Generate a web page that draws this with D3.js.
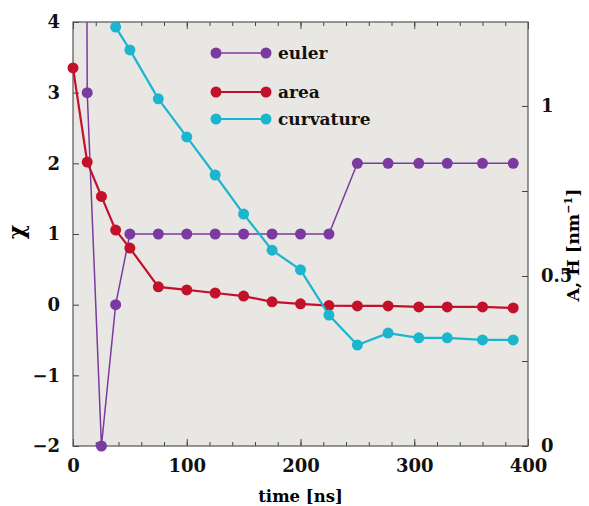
<!DOCTYPE html>
<html>
<head>
<meta charset="utf-8">
<script src="https://cdn.jsdelivr.net/npm/d3@7"></script>
<style>
  body { margin: 0; background: #fff; }
  svg text { font-family: "DejaVu Serif", "Liberation Serif", serif; font-weight: bold; }
</style>
</head>
<body>
<svg width="589" height="506"></svg>
<script>
// data
var eulerTime = [0, 12.5, 25, 37.5, 50, 75, 100, 125, 150, 175, 200, 225, 250, 277, 304, 329, 360, 387];
var eulerVals = [60, 3, -2, 0, 1, 1, 1, 1, 1, 1, 1, 1, 2, 2, 2, 2, 2, 2];

var areaTime = [0, 12.5, 25, 37.5, 50, 75, 100, 125, 150, 175, 200, 225, 250, 277, 304, 329, 360, 387];
var areaVals = [1.112, 0.835, 0.734, 0.635, 0.582, 0.468, 0.459, 0.45, 0.441, 0.424, 0.418, 0.413, 0.412, 0.412, 0.409, 0.409, 0.409, 0.406];

var curvTime = [37.5, 50, 75, 100, 125, 150, 175, 200, 225, 250, 277, 304, 329, 360, 387];
var curvVals = [1.232, 1.165, 1.021, 0.909, 0.797, 0.682, 0.576, 0.518, 0.385, 0.297, 0.332, 0.318, 0.318, 0.312, 0.312];

var leftTicks = [-2, -1, 0, 1, 2, 3, 4];
var rightTicks = [0, 0.5, 1];
var rightMinor = [0.25, 0.75];
var xTicks = [0, 100, 200, 300, 400];

var series = [
  {name: "euler", color: "#7b3a9f", axis: "left", t: eulerTime, v: eulerVals, w: 1.5},
  {name: "area", color: "#c3112c", axis: "right", t: areaTime, v: areaVals, w: 2.2},
  {name: "curvature", color: "#1bb6ce", axis: "right", t: curvTime, v: curvVals, w: 2.2}
];

var svg = d3.select("svg"),
    margin = {top: 22, right: 61, bottom: 60, left: 73},
    width = +svg.attr("width") - margin.left - margin.right,
    height = +svg.attr("height") - margin.top - margin.bottom;

var x = d3.scaleLinear().domain([0, 400]).range([0, width]),
    yL = d3.scaleLinear().domain([-2, 4]).range([height, 0]),
    yR = d3.scaleLinear().domain([0, 1.247]).range([height, 0]);

var g = svg.append("g")
    .attr("transform", "translate(" + margin.left + "," + margin.top + ")");

// plot background
g.append("rect")
    .attr("width", width).attr("height", height)
    .attr("fill", "#e9e7e4");

g.append("clipPath").attr("id", "clip")
  .append("rect").attr("width", width).attr("height", height);

// axes, ticks pointing inward
var minorX = d3.range(0, 401, 20);

g.append("g")
    .attr("transform", "translate(0," + height + ")")
    .call(d3.axisBottom(x).tickValues(minorX).tickSizeInner(-4).tickSizeOuter(0).tickFormat(""));
g.append("g")
    .attr("transform", "translate(0," + height + ")")
    .call(d3.axisBottom(x).tickValues(xTicks).tickSizeInner(-7).tickSizeOuter(0).tickPadding(13).tickFormat(d3.format("d")));
g.append("g")
    .call(d3.axisTop(x).tickValues(minorX).tickSizeInner(-4).tickSizeOuter(0).tickFormat(""));
g.append("g")
    .call(d3.axisTop(x).tickValues(xTicks).tickSizeInner(-7).tickSizeOuter(0).tickFormat(""));

g.append("g")
    .call(d3.axisLeft(yL).tickValues(leftTicks).tickSizeInner(-6).tickSizeOuter(0).tickPadding(13).tickFormat(d3.format("d")));

g.append("g")
    .attr("transform", "translate(" + width + ",0)")
    .call(d3.axisRight(yR).tickValues(rightTicks).tickSizeInner(-6).tickSizeOuter(0).tickPadding(13).tickFormat(function(d) { return d === 0.5 ? "0.5" : d3.format("d")(d); }));
g.append("g")
    .attr("transform", "translate(" + width + ",0)")
    .call(d3.axisRight(yR).tickValues(rightMinor).tickSizeInner(-6).tickSizeOuter(0).tickFormat(""));

g.selectAll(".tick text").attr("font-size", 18).attr("fill", "#111");
g.selectAll(".tick line").attr("stroke", "#444");
g.selectAll(".domain").remove();

// frame
g.append("rect")
    .attr("width", width).attr("height", height)
    .attr("fill", "none").attr("stroke", "#555").attr("stroke-width", 1.2);

// series
series.forEach(function(s) {
  var yy = s.axis === "left" ? yL : yR;
  var pts = s.t.map(function(t, i) { return {t: t, v: s.v[i]}; });
  var line = d3.line().x(function(d) { return x(d.t); }).y(function(d) { return yy(d.v); });

  g.append("path")
      .datum(pts)
      .attr("clip-path", "url(#clip)")
      .attr("fill", "none")
      .attr("stroke", s.color)
      .attr("stroke-width", s.w)
      .attr("d", line);

  g.selectAll(".dot-" + s.name)
    .data(pts.filter(function(d) { return yy(d.v) >= -6 && yy(d.v) <= height + 6; }))
    .enter().append("circle")
      .attr("cx", function(d) { return x(d.t); })
      .attr("cy", function(d) { return yy(d.v); })
      .attr("r", 5.5)
      .attr("fill", s.color);
});

// legend
var legY = [31, 70, 97];
series.forEach(function(s, i) {
  var lg = g.append("g").attr("transform", "translate(143," + legY[i] + ")");
  lg.append("line").attr("x1", 0).attr("x2", 50).attr("stroke", s.color).attr("stroke-width", s.w);
  lg.append("circle").attr("cx", 0).attr("r", 5.5).attr("fill", s.color);
  lg.append("circle").attr("cx", 50).attr("r", 5.5).attr("fill", s.color);
  lg.append("text").attr("x", 62).attr("y", 6).attr("font-size", 17).attr("fill", "#111").text(s.name);
});

// axis titles
svg.append("text")
    .attr("transform", "translate(24,232) rotate(-90)")
    .attr("text-anchor", "middle")
    .attr("font-size", 22)
    .text("χ");

svg.append("text")
    .attr("x", margin.left + width / 2)
    .attr("y", 502)
    .attr("text-anchor", "middle")
    .attr("font-size", 16.5)
    .text("time [ns]");

var rt = svg.append("text")
    .attr("transform", "translate(579,245) rotate(-90)")
    .attr("text-anchor", "middle")
    .attr("font-size", 17.5);
rt.append("tspan").text("A, H [nm");
rt.append("tspan").attr("dy", -7).attr("font-size", 11).text("−1");
rt.append("tspan").attr("dy", 7).text("]");
</script>
</body>
</html>
